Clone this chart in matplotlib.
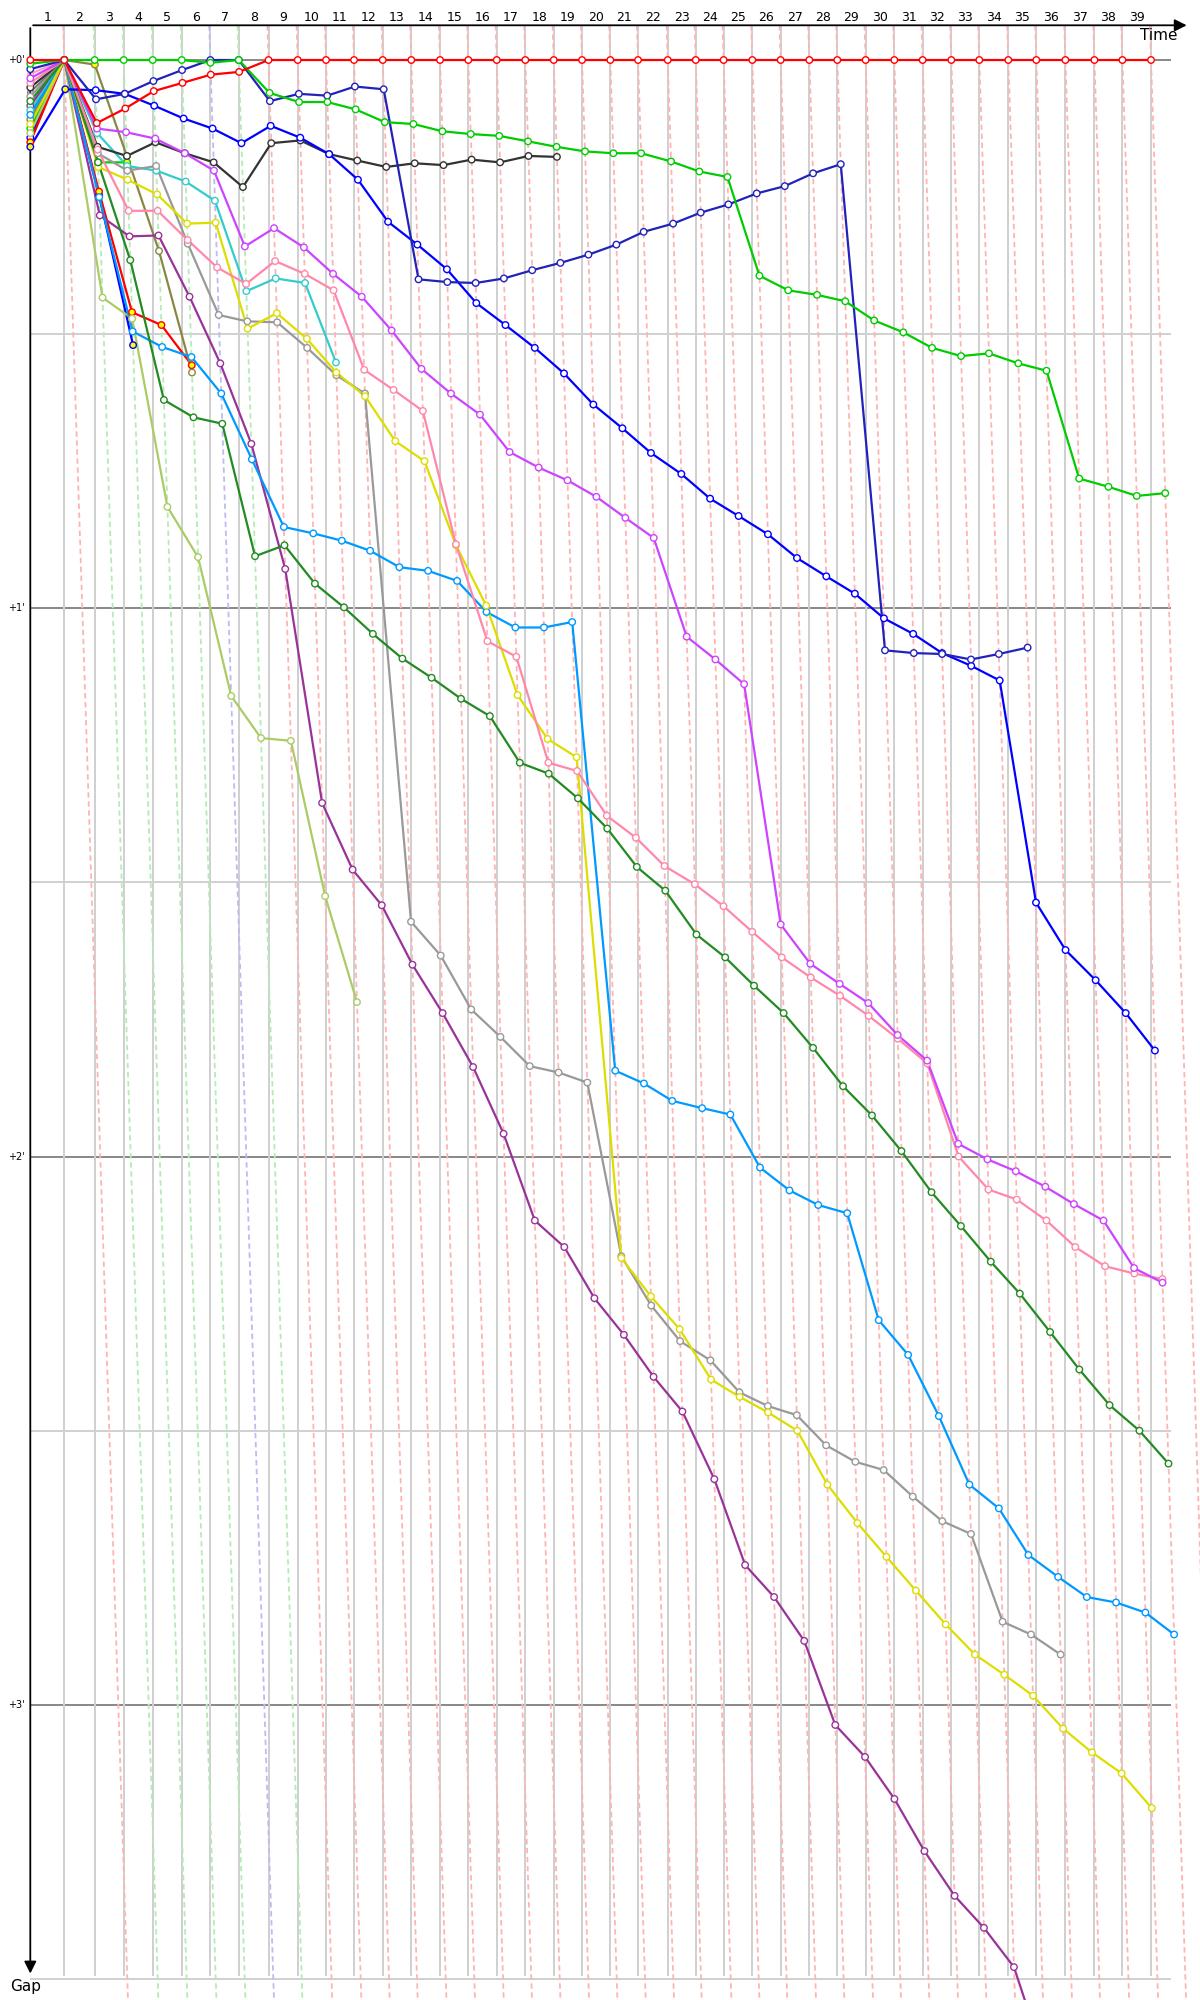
import matplotlib
matplotlib.use("Agg")
import matplotlib.pyplot as plt
from matplotlib import transforms

plt.rcParams["font.family"] = ["DejaVu Sans"]

# leader's lap times (s) and who led each lap
lap_times = [113.3, 101.4, 96.7, 96.7, 96.7, 95.3, 94.7, 99.3, 97.3, 94.4,
             93.3, 95.7, 95.3, 95.7, 94.3, 94.7, 95.3, 94.7, 94.3, 94.3,
             92.4, 99.0, 93.3, 93.0, 95.7, 94.3, 95.7, 93.3, 94.3, 95.7,
             94.3, 95.7, 93.3, 96.7, 93.3, 97.0, 96.7, 93.3, 95.4]
lap_leaders = ["red"] + ["green"] * 4 + ["navy"] + ["green"] + ["red"] * 32
lap_labels = [str(i) for i in range(1, 40)]

# gap to leader (s), index = lap (0 = grid)
red = [0, 0, 6.9, 5.3, 3.4, 2.5, 1.6, 1.3] + [0] * 32
green = [0.4, 0, 0, 0, 0, 0, 0.3, 0, 3.6, 4.6, 4.6, 5.4, 6.8, 7.0, 7.8, 8.1,
         8.3, 8.9, 9.5, 10.0, 10.2, 10.2, 11.1, 12.2, 12.8, 23.6, 25.2, 25.7,
         26.4, 28.5, 29.8, 31.5, 32.4, 32.1, 33.2, 34.0, 45.8, 46.7, 47.7, 47.4]
navy = [1.0, 0, 4.3, 3.7, 2.3, 1.1, 0, 0, 4.5, 3.7, 3.9, 2.9, 3.2, 24.0, 24.3,
        24.4, 23.9, 23.0, 22.2, 21.3, 20.2, 18.8, 17.9, 16.7, 15.8, 14.6, 13.8,
        12.4, 11.4, 64.6, 64.9, 65.0, 65.6, 65.0, 64.3]
blue = [9.5, 3.2, 3.3, 3.7, 5.0, 6.4, 7.5, 9.1, 7.2, 8.5, 10.3, 13.1, 17.7,
        20.2, 22.9, 26.6, 29.0, 31.5, 34.3, 37.7, 40.3, 43.0, 45.3, 48.0, 49.9,
        51.9, 54.5, 56.5, 58.4, 61.1, 62.8, 64.9, 66.3, 67.9, 92.2, 97.4,
        100.7, 104.3, 108.4]
black = [3.0, 0, 9.5, 10.5, 9.0, 10.2, 11.2, 13.9, 9.1, 8.8, 10.3, 11.0, 11.7,
         11.3, 11.5, 10.9, 11.2, 10.5, 10.6]
magenta = [2.0, 0, 7.5, 7.9, 8.6, 10.2, 12.1, 20.4, 18.4, 20.5, 23.4, 25.9,
           29.6, 33.8, 36.5, 38.8, 42.9, 44.6, 46.0, 47.8, 50.1, 52.3, 63.1,
           65.6, 68.3, 94.6, 98.9, 101.1, 103.2, 106.7, 109.5, 118.6, 120.3,
           121.6, 123.3, 125.2, 127.0, 132.2, 133.8]
pink = [2.5, 0, 9.8, 16.5, 16.5, 19.7, 22.7, 24.5, 22.0, 23.4, 25.2, 33.9,
        36.1, 38.4, 53.0, 63.6, 65.3, 76.9, 77.8, 82.7, 85.1, 88.2, 90.2, 92.6,
        95.4, 98.2, 100.4, 102.4, 104.6, 107.1, 109.8, 120.0, 123.6, 124.7,
        127.0, 129.9, 132.0, 132.8, 133.4]
cyan = [5.5, 0, 8.0, 11.6, 12.1, 13.3, 15.4, 25.3, 23.9, 24.4, 33.1]
yellow = [7.0, 0, 11.7, 13.1, 14.7, 17.9, 17.8, 29.4, 27.7, 30.5, 34.2, 36.8,
          41.7, 43.9, 53.1, 59.7, 69.5, 74.3, 76.3, 131.1, 135.3, 138.9, 144.4,
          146.3, 148.0, 150.0, 155.9, 160.1, 163.8, 167.5, 171.2, 174.5, 176.7,
          179.0, 182.6, 185.2, 187.5, 191.3]
gray = [4.0, 0, 10.2, 12.1, 11.6, 20.1, 27.9, 28.6, 28.7, 31.5, 34.5, 36.5,
        94.3, 98.0, 103.9, 106.9, 110.1, 110.8, 111.9, 130.9, 136.3, 140.2,
        142.3, 145.8, 147.3, 148.3, 151.6, 153.4, 154.3, 157.2, 159.9, 161.3,
        170.9, 172.3, 174.5]
dkgreen = [4.5, 0, 11.2, 21.9, 37.2, 39.1, 39.8, 54.3, 53.1, 57.3, 59.9, 62.8,
           65.5, 67.6, 69.9, 71.8, 76.9, 78.1, 80.8, 84.1, 88.3, 90.9, 95.7,
           98.2, 101.3, 104.3, 108.1, 112.3, 115.5, 119.4, 123.9, 127.6, 131.5,
           135.0, 139.2, 143.3, 147.2, 150.0, 153.6]
ltblue = [6.0, 0, 15.0, 29.7, 31.4, 32.5, 36.5, 43.7, 51.1, 51.8, 52.6, 53.7,
          55.5, 55.9, 57.0, 60.4, 62.1, 62.1, 61.5, 110.6, 112.0, 113.9, 114.7,
          115.4, 121.2, 123.7, 125.3, 126.2, 137.9, 141.7, 148.4, 155.9, 158.5,
          163.6, 166.0, 168.2, 168.8, 169.9, 172.3]
ltolive = [8.0, 0, 26.0, 28.3, 48.9, 54.4, 69.6, 74.2, 74.5, 91.5, 103.1]
purple = [5.0, 0, 17.0, 19.3, 19.2, 25.9, 33.2, 42.0, 55.7, 81.3, 88.6, 92.5,
          99.0, 104.3, 110.2, 117.5, 127.0, 129.9, 135.5, 139.5, 144.1, 147.9,
          155.3, 164.7, 168.2, 173.0, 182.2, 185.7, 190.3, 196.0, 200.9, 204.4,
          208.7, 219.0]
olive = [6.5, 0, 0.5, 10.5, 20.9, 34.2]
red2 = [9.0, 0, 14.4, 27.6, 29.0, 33.4]
blue2 = [8.5, 0, 14.8, 31.2]
green2 = [7.5, 0, 11.2, 11.2]
# cars that only show the opening lap
short_gaps = [1.5, 3.5, 4.8, 5.8, 6.8, 7.8]
short_colors = ["#ff99cc", "#777777", "#bbbbbb", "#22bbbb", "#ff77aa", "#44aa44"]

drivers = [
    ("#00cc00", green2, [1, 2, 3]),
    ("#0000ff", blue2, [2, 3]),
    ("#ff0000", red2, [0, 2, 3, 4, 5]),
    ("#888844", olive, [2]),
    ("#aacc66", ltolive, []),
    ("#993399", purple, []),
    ("#33cccc", cyan, []),
    ("#333333", black, []),
    ("#999999", gray, []),
    ("#0099ff", ltblue, []),
    ("#dddd00", yellow, []),
    ("#228b22", dkgreen, []),
    ("#ff88aa", pink, []),
    ("#cc44ff", magenta, [1]),
    ("#0000ff", blue, [0, 1]),
    ("#2222bb", navy, []),
    ("#00cc00", green, []),
    ("#ff0000", red, []),
]
dash_colors = {"red": "#ffb4b4", "green": "#b4ecb4", "navy": "#bcbcf4"}

# cumulative race time of the leader at each lap
T = [0.0]
for t in lap_times:
    T.append(T[-1] + t)

px_per_s = 0.30
x_max = (1200 - 30.3) / px_per_s
y_top, y_bot = -3.8, 212.3

fig = plt.figure(figsize=(12, 20), dpi=100)
ax = fig.add_axes([30.3 / 1200, 0, 1 - 30.3 / 1200, 1 - 25.3 / 2000])
ax.set_xlim(0, x_max)
ax.set_ylim(y_bot, y_top)
ax.axis("off")

x_end = (1170 - 30.3) / px_per_s

# horizontal grid
for g in [30, 90, 150, 210]:
    ax.plot([0, x_end], [g, g], color="#d0d0d0", lw=1.4, zorder=0)
for g in [0, 60, 120, 180]:
    ax.plot([0, x_end], [g, g], color="#888888", lw=1.4, zorder=0)

# lap lines and the leader's lap lines
for k in range(1, len(T)):
    ax.plot([T[k], T[k]], [y_top, 209.6], color="#cfcfcf", lw=1.4, zorder=0)
    ax.plot([T[k] + y_top, T[k] + y_bot], [y_top, y_bot],
            color=dash_colors[lap_leaders[k - 1]], lw=1.3,
            dashes=(3, 2), zorder=1)

# opening-lap-only cars
for g0, c in zip(short_gaps, short_colors):
    ax.plot([0, T[1]], [g0, 0], color=c, lw=1.5, marker="o", ms=4,
            mfc="white", mec=c, mew=1, zorder=2, clip_on=False)

for color, gaps, filled in drivers:
    xs = [0 if k == 0 else T[k] + g for k, g in enumerate(gaps)]
    ax.plot(xs, gaps, color=color, lw=1.6, zorder=3, clip_on=False)
    fc = ["#ffff00" if k in filled else "white" for k in range(len(gaps))]
    ax.scatter(xs, gaps, s=22, facecolors=fc, edgecolors=color,
               linewidths=1.0, zorder=4, clip_on=False)

# lap numbers along the top
trans = transforms.blended_transform_factory(ax.transData, ax.transAxes)
for k, lab in enumerate(lap_labels):
    ax.text((T[k] + T[k + 1]) / 2, 1 + 8 / 1974.7, lab, transform=trans,
            ha="center", va="center", fontsize=9, clip_on=False)

# gap labels on the left
trans_y = transforms.blended_transform_factory(ax.transAxes, ax.transData)
for g, lab in zip([0, 60, 120, 180], ["+0'", "+1'", "+2'", "+3'"]):
    ax.text(-6 / 1169.7, g, lab, transform=trans_y, ha="right", va="center",
            fontsize=7, clip_on=False)

# axis arrows
ax.annotate("", xy=(0.991, 1), xytext=(0, 1), xycoords="axes fraction",
            arrowprops=dict(arrowstyle="-|>", color="black", lw=1.3,
                            mutation_scale=18), annotation_clip=False)
ax.annotate("", xy=(0, 0.012), xytext=(0, 1), xycoords="axes fraction",
            arrowprops=dict(arrowstyle="-|>", color="black", lw=1.3,
                            mutation_scale=18), annotation_clip=False)
fig.text(1178 / 1200, 1 - 35 / 2000, "Time", ha="right", va="center", fontsize=11)
fig.text(26 / 1200, 1 - 1987 / 2000, "Gap", ha="center", va="center", fontsize=11)

fig.savefig("out.png", dpi=100)
